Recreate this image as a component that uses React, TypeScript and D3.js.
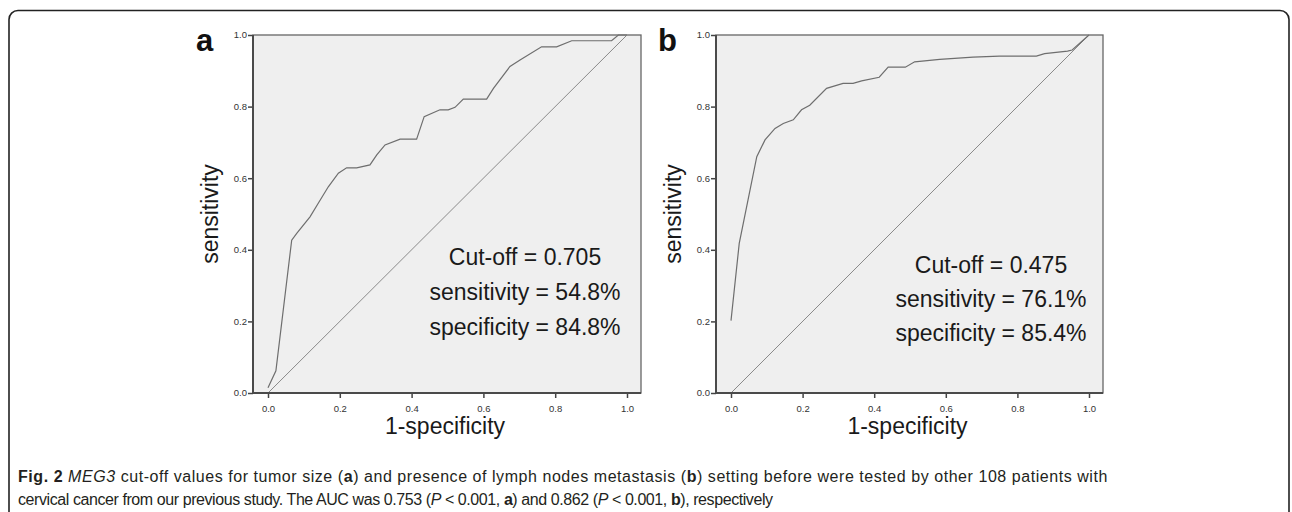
import React, { useEffect, useRef } from "react"
import * as d3 from "d3"

// ROC points: [1-specificity, sensitivity]
const rocA: [number, number][] = [
	[0.0, 0.015], [0.022, 0.062], [0.066, 0.427], [0.08, 0.446], [0.117, 0.492],
	[0.14, 0.53], [0.168, 0.576], [0.196, 0.614], [0.219, 0.629], [0.247, 0.629],
	[0.284, 0.637], [0.303, 0.665], [0.326, 0.693], [0.368, 0.709], [0.414, 0.709],
	[0.435, 0.772], [0.479, 0.791], [0.502, 0.791], [0.521, 0.798], [0.544, 0.821],
	[0.609, 0.821], [0.628, 0.851], [0.674, 0.912], [0.702, 0.93], [0.762, 0.967],
	[0.804, 0.967], [0.846, 0.984], [0.957, 0.984], [0.976, 1.0], [1.0, 1.0],
]
const rocB: [number, number][] = [
	[0.0, 0.202], [0.023, 0.418], [0.072, 0.66], [0.095, 0.707], [0.123, 0.739],
	[0.146, 0.753], [0.174, 0.763], [0.197, 0.791], [0.22, 0.804], [0.267, 0.851],
	[0.313, 0.865], [0.341, 0.865], [0.365, 0.872], [0.414, 0.882], [0.439, 0.91],
	[0.487, 0.91], [0.513, 0.925], [0.583, 0.932], [0.676, 0.938], [0.75, 0.941],
	[0.853, 0.941], [0.876, 0.948], [0.94, 0.955], [0.953, 0.958], [1.0, 1.0],
]
const ticks = [0, 0.2, 0.4, 0.6, 0.8, 1.0]
const notesA = ["Cut-off = 0.705", "sensitivity = 54.8%", "specificity = 84.8%"]
const notesB = ["Cut-off = 0.475", "sensitivity = 76.1%", "specificity = 85.4%"]

const FONT = "'Liberation Sans', Arial, sans-serif"

const App: React.FC = () => {
	const ref = useRef<SVGGElement>(null)

	useEffect(() => {
		const svg = d3.select(ref.current)
		svg.selectAll("*").remove()

		/* one ROC panel; box = plot frame, x0/x1 = pixel pos of 0 and 1 on x */
		function panel(
			data: [number, number][],
			notes: string[],
			letter: string,
			box: { left: number; right: number; top: number; bottom: number },
			x0: number,
			x1: number,
			letterX: number,
			noteX: number,
			noteY: number[]
		) {
			const g = svg.append("g")
			const x = d3.scaleLinear().domain([0, 1]).range([x0, x1])
			const y = d3.scaleLinear().domain([0, 1]).range([box.bottom, box.top])

			g.append("rect")
				.attr("x", box.left)
				.attr("y", box.top)
				.attr("width", box.right - box.left)
				.attr("height", box.bottom - box.top)
				.attr("fill", "#efefef")
				.attr("stroke", "#666")
				.attr("stroke-width", 1.3)

			// reference diagonal
			g.append("line")
				.attr("x1", x(0))
				.attr("y1", y(0))
				.attr("x2", x(1))
				.attr("y2", y(1))
				.attr("stroke", "#8a8a8a")
				.attr("stroke-width", 1)

			const line = d3
				.line<[number, number]>()
				.x((d) => x(d[0]))
				.y((d) => y(d[1]))
			g.append("path")
				.datum(data)
				.attr("d", line)
				.attr("fill", "none")
				.attr("stroke", "#6e6e6e")
				.attr("stroke-width", 1.2)

			/* ****** axes ****** */
			const xAxis = d3
				.axisBottom(x)
				.tickValues(ticks)
				.tickSize(5)
				.tickSizeOuter(0)
				.tickFormat(d3.format(".1f"))
			const gx = g.append("g").attr("transform", `translate(0,${box.bottom})`).call(xAxis)
			gx.select(".domain").remove()
			g.append("line")
				.attr("x1", box.left)
				.attr("x2", box.right)
				.attr("y1", box.bottom)
				.attr("y2", box.bottom)
				.attr("stroke", "#4a4a4a")
				.attr("stroke-width", 2)

			const yAxis = d3
				.axisLeft(y)
				.tickValues(ticks)
				.tickSize(5)
				.tickSizeOuter(0)
				.tickFormat(d3.format(".1f"))
			const gy = g.append("g").attr("transform", `translate(${box.left},0)`).call(yAxis)
			gy.select(".domain").remove()
			g.append("line")
				.attr("x1", box.left)
				.attr("x2", box.left)
				.attr("y1", box.top)
				.attr("y2", box.bottom)
				.attr("stroke", "#4a4a4a")
				.attr("stroke-width", 2)

			g.selectAll(".tick line").attr("stroke", "#444").attr("stroke-width", 1.5)
			g.selectAll(".tick text")
				.attr("fill", "#333")
				.style("font-family", FONT)
				.style("font-size", "9.5px")
			gx.selectAll(".tick text").attr("dy", "1.15em")
			gy.selectAll(".tick text").attr("x", -6).attr("dy", "0.3em")

			g.append("text")
				.attr("x", (box.left + box.right) / 2 - 2)
				.attr("y", 434)
				.attr("text-anchor", "middle")
				.style("font-family", FONT)
				.style("font-size", "23px")
				.attr("fill", "#1a1a1a")
				.text("1-specificity")

			g.append("text")
				.attr("transform", `translate(${box.left - 35},${(box.top + box.bottom) / 2}) rotate(-90)`)
				.attr("text-anchor", "middle")
				.style("font-family", FONT)
				.style("font-size", "23px")
				.attr("fill", "#1a1a1a")
				.text("sensitivity")

			g.append("text")
				.attr("x", letterX)
				.attr("y", 51)
				.style("font-family", FONT)
				.style("font-size", "31px")
				.style("font-weight", "bold")
				.attr("fill", "#111")
				.text(letter)

			g.selectAll(".note")
				.data(notes)
				.join("text")
				.attr("class", "note")
				.attr("x", noteX)
				.attr("y", (d, i) => noteY[i])
				.attr("text-anchor", "middle")
				.style("font-family", FONT)
				.style("font-size", "23px")
				.attr("fill", "#1a1a1a")
				.text((d) => d)
		}

		panel(rocA, notesA, "a", { left: 253, right: 641, top: 35, bottom: 393 }, 268, 627, 196, 525, [265, 300, 335])
		panel(rocB, notesB, "b", { left: 716, right: 1103, top: 35, bottom: 393 }, 731, 1089, 658, 991, [273, 307, 341])
	}, [])

	const cap = { fontFamily: "'Liberation Sans', Arial, sans-serif", fontSize: 16, fill: "#231f20" }

	return (
		<svg
			width={1292}
			height={512}
			style={{ position: "absolute", left: 0, top: 0, background: "#fff" }}>
			<rect x={9} y={10.5} width={1280} height={520} rx={9} fill="none" stroke="#222" strokeWidth={1.6} />
			<g ref={ref} />
			<g className="caption">
				<text x={18} y={482} style={{ ...cap, letterSpacing: "0.55px" }}>
					<tspan fontWeight="bold">Fig. 2</tspan> <tspan fontStyle="italic">MEG3</tspan> cut-off values for
					tumor size (<tspan fontWeight="bold">a</tspan>) and presence of lymph nodes metastasis (<tspan fontWeight="bold">b</tspan>) setting before were tested by other 108 patients with
				</text>
				<text x={18} y={505} style={{ ...cap, letterSpacing: "-0.42px" }}>
					cervical cancer from our previous study. The AUC was 0.753 (<tspan fontStyle="italic">P</tspan>{" "}
					&lt; 0.001, <tspan fontWeight="bold">a</tspan>) and 0.862 (<tspan fontStyle="italic">P</tspan>{" "}
					&lt; 0.001, <tspan fontWeight="bold">b</tspan>), respectively
				</text>
			</g>
		</svg>
	)
}

export default App
